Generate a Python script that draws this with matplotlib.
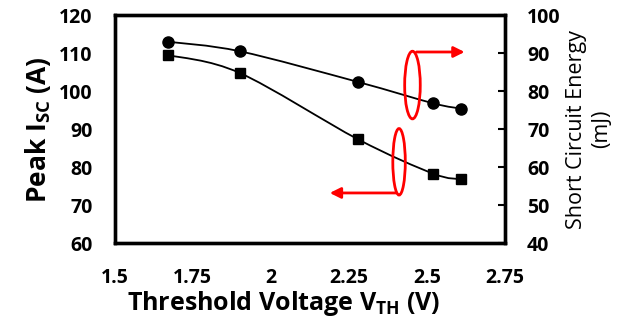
import numpy as np
import matplotlib
matplotlib.use("Agg")
import matplotlib.pyplot as plt
from matplotlib.path import Path
from matplotlib.patches import PathPatch, Ellipse

# threshold voltage (V)
vth = [1.67, 1.90, 2.28, 2.52, 2.61]
# peak short-circuit current (A), left axis
peak_isc = [109.5, 104.8, 87.3, 78.3, 76.8]
# short-circuit energy (mJ), right axis
sc_energy = [93.0, 90.5, 82.4, 76.8, 75.4]

plt.rcParams['font.family'] = ['Open Sans', 'DejaVu Sans']
plt.rcParams['mathtext.fontset'] = 'custom'
plt.rcParams['mathtext.rm'] = 'Open Sans:bold'


def smooth_path(x, y):
    # Excel-style smoothed line: cubic bezier segments through every point
    p = np.column_stack([x, y])
    n = len(p)
    verts = [p[0]]
    codes = [Path.MOVETO]
    for i in range(n - 1):
        p0 = p[i - 1] if i > 0 else p[i]
        p3 = p[i + 2] if i + 2 < n else p[i + 1]
        c1 = p[i] + (p[i + 1] - p0) / 6.0
        c2 = p[i + 1] - (p3 - p[i]) / 6.0
        verts += [c1, c2, p[i + 1]]
        codes += [Path.CURVE4] * 3
    return Path(verts, codes)


fig = plt.figure(figsize=(6.24, 3.22), dpi=100)
ax = fig.add_axes([0.184, 0.245, 0.625, 0.708])
ax2 = ax.twinx()

ax.add_patch(PathPatch(smooth_path(vth, peak_isc), fc='none', ec='black', lw=1.3))
ax.plot(vth, peak_isc, ls='none', marker='s', ms=7.5, color='black')
ax2.add_patch(PathPatch(smooth_path(vth, sc_energy), fc='none', ec='black', lw=1.3))
ax2.plot(vth, sc_energy, ls='none', marker='o', ms=8, color='black')

ax.set_xlim(1.5, 2.75)
ax.set_ylim(60, 120)
ax2.set_ylim(40, 100)
ax.set_xticks([1.5, 1.75, 2, 2.25, 2.5, 2.75])
ax.set_xticklabels(['1.5', '1.75', '2', '2.25', '2.5', '2.75'])
ax.set_yticks(np.arange(60, 121, 10))
ax2.set_yticks(np.arange(40, 101, 10))

ax.tick_params(axis='x', length=0, pad=18, labelsize=14)
ax.tick_params(axis='y', length=0, pad=16, labelsize=14)
ax2.tick_params(axis='y', direction='in', length=5, width=1.5, pad=16, labelsize=14)
for lab in ax.get_xticklabels() + ax.get_yticklabels() + ax2.get_yticklabels():
    lab.set_fontweight('bold')

for a in (ax, ax2):
    for s in a.spines.values():
        s.set_linewidth(2.4)

ax.set_ylabel(r'Peak I$_\mathregular{SC}$ (A)', fontsize=19, fontweight='bold', labelpad=4)
ax.set_xlabel(r'Threshold Voltage V$_\mathregular{TH}$ (V)', fontsize=18, fontweight='bold')
ax.xaxis.set_label_coords(0.433, -0.2)
ax2.set_ylabel('Short Circuit Energy\n(mJ)', fontsize=15.5, labelpad=4, linespacing=1.25)

# red markers pointing each curve to its axis
ax2.add_patch(Ellipse((2.454, 81.6), 0.05, 17.8, fill=False, ec='red', lw=2))
ax2.annotate('', xy=(2.63, 90.3), xytext=(2.458, 90.3),
             arrowprops=dict(arrowstyle='-|>', color='red', lw=2, mutation_scale=16))
ax.add_patch(Ellipse((2.411, 81.4), 0.04, 17.5, fill=False, ec='red', lw=2))
ax.annotate('', xy=(2.18, 73.2), xytext=(2.41, 73.2),
            arrowprops=dict(arrowstyle='-|>', color='red', lw=2, mutation_scale=16))

fig.savefig('out.png', dpi=100)
